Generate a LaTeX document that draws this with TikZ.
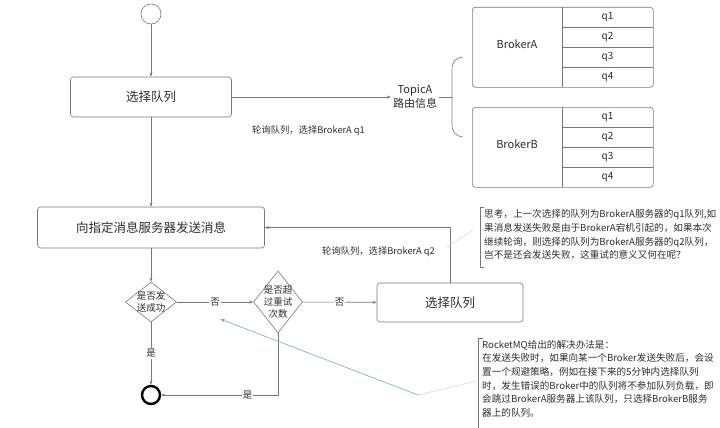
\documentclass[tikz,border=0pt]{standalone}
\usepackage{fontspec}
\setmainfont{Noto Sans CJK SC}
\usetikzlibrary{shapes.geometric, arrows.meta, positioning}
\definecolor{line-color}{RGB}{120,120,120}
\definecolor{text-color}{RGB}{45,45,45}
\definecolor{hint-color}{RGB}{125,165,195}
\definecolor{faint-color}{RGB}{215,215,215}

\tikzset{
  flowbox/.style={draw=line-color, rounded corners=3pt, line width=0.6pt, inner sep=0pt, text=text-color, font=\fontsize{12.5}{14}\selectfont},
  decision/.style={draw=line-color, diamond, inner sep=0pt, line width=0.6pt},
  dectext/.style={align=center, inner sep=0pt, text=text-color, font=\fontsize{9.5}{12}\selectfont},
  flow/.style={draw=line-color, line width=0.6pt, -{Stealth[length=4pt,width=3pt]}},
  cond/.style={font=\fontsize{9.5}{10}\selectfont, fill=white, inner sep=1pt, text=text-color},
  poll/.style={anchor=west, inner sep=0pt, text=text-color, font=\fontsize{9.3}{10}\selectfont},
  note/.style={align=left, anchor=north west, inner sep=0pt, text=text-color, font=\fontsize{9.6}{13.6}\selectfont},
  cell/.style={inner sep=0pt, text=text-color, font=\fontsize{10}{12}\selectfont},
}

\begin{document}
\begin{tikzpicture}[x=1pt, y=-1pt]
    \useasboundingbox (0,0) rectangle (720,428);

    % start and end states
    \node[circle, draw=line-color, minimum size=20pt, inner sep=0pt, line width=0.6pt] (start) at (151,14) {};
    \node[circle, draw=black, minimum size=18pt, inner sep=0pt, line width=2.4pt] (end) at (151,395) {};

    % main flow boxes
    \node[flowbox, minimum width=161pt, minimum height=40pt] (sel1) at (151,97) {选择队列};
    \node[flowbox, minimum width=227pt, minimum height=41pt] (send) at (151,227.5) {向指定消息服务器发送消息};
    \node[flowbox, minimum width=146pt, minimum height=39pt] (sel2) at (450,302.5) {选择队列};

    % decisions
    \node[decision, minimum width=51pt, minimum height=40pt] (d1) at (151,302) {};
    \node[dectext] (d1-text) at (d1) {是否发\\送成功};
    \node[decision, minimum width=49pt, minimum height=62pt] (d2) at (278,302) {};
    \node[dectext] (d2-text) at (d2) {是否超\\过重试\\次数};

    % routing info
    \node[align=center, inner sep=2pt, text=text-color, font=\fontsize{11}{14}\selectfont] (topic) at (415,97) {TopicA\\路由信息};
    \coordinate (bracetip) at (452,97);
    \draw[line-color, line width=0.6pt] (463,57) .. controls (455,58) and (452,62) .. (452,70) -- (452,124) .. controls (452,132) and (455,136) .. (463,137);

    % brokers with their queues
    \foreach \name/\y in {A/7, B/107} {
        \node[draw=line-color, rounded corners=3pt, minimum width=181pt, minimum height=80pt, inner sep=0pt, anchor=north west, line width=0.6pt] (broker\name) at (472,\y) {};
        \draw[line-color, line width=0.6pt] (562,\y) -- ++(0,80);
        \foreach \r in {1,2,3}
            \draw[line-color, line width=0.6pt] (562,\y+20*\r) -- (653,\y+20*\r);
        \node[cell, font=\fontsize{11}{12}\selectfont] (broker\name-label) at (517,\y+37) {Broker\name};
        \foreach \q in {1,...,4}
            \node[cell] (broker\name-q\q) at (607.5,\y+20*\q-10) {q\q};
    }

    % connectors
    \draw[flow] (start) -- (sel1);
    \draw[flow] (sel1) -- (topic);
    \draw[line-color, line width=0.6pt] (topic) -- (bracetip);
    \draw[flow] (sel1) -- (send);
    \draw[flow] (send) -- (d1);
    \draw[flow] (d1) -- node[cond] {否} (d2);
    \draw[flow] (d2) -- node[cond] {否} (sel2);
    \draw[flow] (d1) -- node[cond] {是} (end);
    \draw[flow] (d2) |- node[cond, pos=0.63] {是} (end);
    \draw[flow] (sel2.north) |- (send.east);

    % polling labels
    \node[poll] (poll1) at (252,131) {轮询队列，选择BrokerA q1};
    \node[poll] (poll2) at (322,252) {轮询队列，选择BrokerA q2};

    % notes
    \node[note] (note1) at (484,209.5) {思考，上一次选择的队列为BrokerA服务器的q1队列,如\\果消息发送失败是由于BrokerA宕机引起的，如果本次\\继续轮询，则选择的队列为BrokerA服务器的q2队列，\\岂不是还会发送失败，这重试的意义又何在呢？};
    \draw[line-color, line width=0.5pt] (484,207) -- (480,207) -- (480,267) -- (484,267);
    \node[note] (note2) at (482,340) {RocketMQ给出的解决办法是：\\在发送失败时，如果向某一个Broker发送失败后，会设\\置一个规避策略，例如在接下来的5分钟内选择队列\\时，发生错误的Broker中的队列将不参加队列负载，即\\会跳过BrokerA服务器上该队列，只选择BrokerB服务\\器上的队列。};
    \draw[line-color, line width=0.5pt] (483,338) -- (478,338) -- (478,430);

    % note pointers
    \coordinate (note1-tip) at (473,230);
    \coordinate (note1-foot) at (447,247);
    \draw[faint-color, line width=0.6pt] (note1-foot) -- (note1-tip);
    \coordinate (hint-start) at (418,395);
    \coordinate (hint-target) at (220,319);
    \coordinate (note2-tip) at (477,381);
    \draw[faint-color, line width=0.6pt] (hint-start) -- (note2-tip);
    \draw[hint-color, line width=0.6pt, -{Stealth[length=5pt,width=3.5pt]}] (hint-start) -- (hint-target);
\end{tikzpicture}
\end{document}
